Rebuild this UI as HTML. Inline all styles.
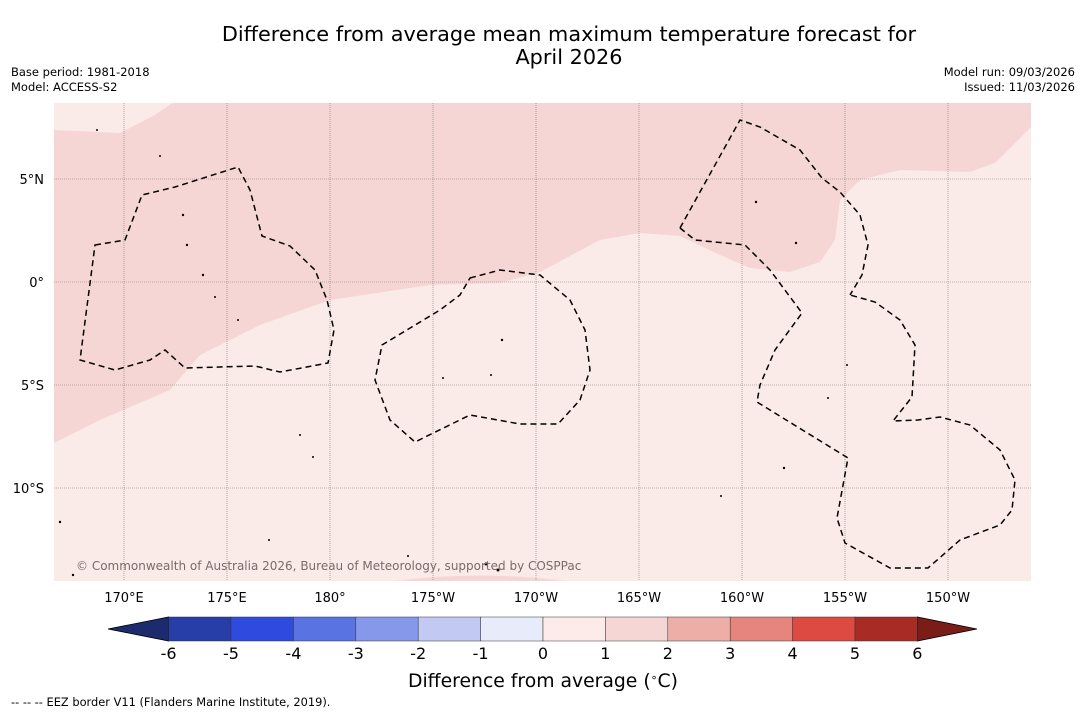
<!DOCTYPE html>
<html><head><meta charset="utf-8"><style>
body{margin:0;background:#fff;font-family:"DejaVu Sans",sans-serif}
svg{display:block}
</style></head><body>
<svg width="1085" height="713" viewBox="0 0 1085 713" xmlns="http://www.w3.org/2000/svg" font-family="DejaVu Sans, sans-serif">
<rect width="1085" height="713" fill="#fff"/>
<text x="569" y="41" font-size="20.8" text-anchor="middle">Difference from average mean maximum temperature forecast for</text>
<text x="569" y="64" font-size="20.8" text-anchor="middle">April 2026</text>
<text x="11" y="76" font-size="11.5">Base period: 1981-2018</text>
<text x="11" y="91" font-size="11.5">Model: ACCESS-S2</text>
<text x="1075" y="76" font-size="11.5" text-anchor="end">Model run: 09/03/2026</text>
<text x="1075" y="91" font-size="11.5" text-anchor="end">Issued: 11/03/2026</text>
<g>
<rect x="54" y="103" width="977" height="478" fill="#fbebe8"/>
<polygon fill="#f6d6d4" points="54,130 120,133 155,115 172,103 1031,103 1031,127 995,163 970,172 900,170 860,180 840,200 835,240 820,262 790,272 750,268 720,255 680,236 640,233 600,240 540,272 500,283 430,285 330,300 260,325 200,355 170,390 100,420 54,443"/>
<path d="M395,581 Q480,570 565,581 Z" fill="#f6d6d4"/>
<g id="grid" stroke="#777" stroke-width="0.6" stroke-dasharray="1,1"></g>
<g fill="none" stroke="#000" stroke-width="1.5" stroke-dasharray="6,4">
<path d="M95,245 L125,240 L142,195 L175,187 L238,167 L250,190 L262,236 L290,246 L315,270 L327,300 L334,330 L328,363 L280,372 L255,366 L185,368 L165,350 L150,360 L115,370 L80,360 Z"/>
<path d="M470,278 L500,270 L540,275 L570,300 L585,330 L590,370 L580,400 L558,424 L520,424 L470,415 L415,442 L390,420 L375,380 L382,345 L440,310 L460,295 Z"/>
<path d="M680,228 L740,120 L760,127 L800,150 L822,178 L840,192 L860,215 L868,245 L862,275 L850,295"/>
<path d="M680,228 L695,240 L745,245 L770,270 L802,313 L775,350 L760,385 L757,402 L848,458 L837,518 L845,543 L890,568 L928,568 L960,540 L1000,525 L1012,510 L1015,480 L1000,450 L970,425 L940,417 L918,420 L893,421 L912,397 L915,345 L900,320 L875,302 L850,295"/>
</g>
<g fill="#000">
<circle cx="97" cy="130" r="1"/><circle cx="160" cy="156" r="1"/><circle cx="183" cy="215" r="1.2"/><circle cx="187" cy="245" r="1.2"/><circle cx="203" cy="275" r="1.2"/><circle cx="215" cy="297" r="1"/><circle cx="238" cy="320" r="1"/><circle cx="502" cy="340" r="1.2"/><circle cx="491" cy="375" r="1"/><circle cx="443" cy="378" r="1"/><circle cx="756" cy="202" r="1.2"/><circle cx="796" cy="243" r="1.2"/><circle cx="784" cy="468" r="1.2"/><circle cx="721" cy="496" r="1"/><circle cx="60" cy="522" r="1.2"/><circle cx="269" cy="540" r="1"/><circle cx="408" cy="556" r="1"/><circle cx="486" cy="564" r="1.5"/><circle cx="498" cy="570" r="1.5"/><circle cx="73" cy="575" r="1.2"/><circle cx="300" cy="435" r="1"/><circle cx="313" cy="457" r="1"/><circle cx="847" cy="365" r="1"/><circle cx="828" cy="398" r="1"/></g>
<text x="76" y="570" font-size="12" fill="#7a6a6a">© Commonwealth of Australia 2026, Bureau of Meteorology, supported by COSPPac</text>
</g>
<g id="axes" font-size="13"></g>
<g id="cbar"></g>
<text x="543" y="687" font-size="18.8" text-anchor="middle">Difference from average (<tspan baseline-shift="super" font-size="11">∘</tspan>C)</text>
<text x="11" y="706" font-size="11.4">--  --  -- EEZ border V11 (Flanders Marine Institute, 2019).</text>
</svg>
<script>
const lonTicks=[170,175,180,185,190,195,200,205,210];
const lonLabels=["170°E","175°E","180°","175°W","170°W","165°W","160°W","155°W","150°W"];
const latTicks=[5,0,-5,-10];
const latLabels=["5°N","0°","5°S","10°S"];
const cbLevels=[-6,-5,-4,-3,-2,-1,0,1,2,3,4,5,6];
const cbColors=["#273ea9","#2f4adf","#5a73e3","#8598e9","#c2caf3","#e8ebf9","#fcebe8","#f6d6d4","#ecaea7","#e6857d","#dc4a41","#a82b24"];
const NS="http://www.w3.org/2000/svg";
const X=l=>124+(l-170)*20.6, Y=a=>282-a*20.6;
const grid=document.getElementById('grid'),axes=document.getElementById('axes'),cb=document.getElementById('cbar');
function mk(t,a,p){const e=document.createElementNS(NS,t);for(const k in a)e.setAttribute(k,a[k]);p.appendChild(e);return e;}
lonTicks.forEach((l,i)=>{
 const ln=mk('line',{x1:X(l),x2:X(l),y1:103,y2:581},grid);
 
 
 const t=mk('text',{x:X(l),y:602,'text-anchor':'middle'},axes);t.textContent=lonLabels[i];
 
 
});
latTicks.forEach((a,i)=>{
 const ln=mk('line',{x1:54,x2:1031,y1:Y(a),y2:Y(a)},grid);
 
 
 const t=mk('text',{x:44,y:Y(a)+5,'text-anchor':'end'},axes);t.textContent=latLabels[i];
 
 
});
const C=v=>543+v*62.4, y0=617,h=24;
const lt=mk('polygon',{points:`${C(-6)},${y0} ${C(-6)},${y0+h} 108,${y0+h/2}`,fill:'#1c2a6e',stroke:'#000','stroke-width':0.8},cb);


const rt=mk('polygon',{points:`${C(6)},${y0} ${C(6)},${y0+h} 977,${y0+h/2}`,fill:'#7a1c17',stroke:'#000','stroke-width':0.8},cb);


cbColors.forEach((c,i)=>{
 const r=mk('rect',{x:C(cbLevels[i]),y:y0,width:C(cbLevels[i+1])-C(cbLevels[i]),height:h,fill:c,stroke:'#333','stroke-width':0.5},cb);
 
 
});
cbLevels.forEach(v=>{
 const t=mk('text',{x:C(v),y:659,'text-anchor':'middle','font-size':16},cb);t.textContent=v;
 
 
});
</script>
</body></html>
